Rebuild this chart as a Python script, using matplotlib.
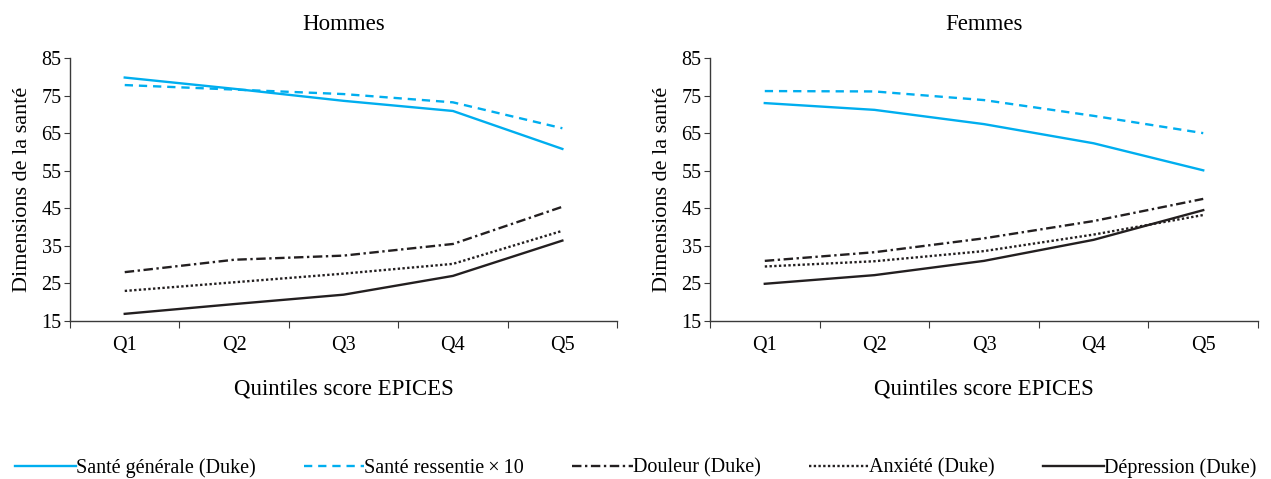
import matplotlib.pyplot as plt

# quintiles of the EPICES score
quintiles = ["Q1", "Q2", "Q3", "Q4", "Q5"]

# Hommes
h_sante_gen = [79.8, 76.8, 73.6, 70.9, 60.8]
h_sante_res = [77.8, 76.6, 75.4, 73.2, 66.3]
h_douleur = [28.0, 31.3, 32.4, 35.5, 45.4]
h_anxiete = [23.0, 25.3, 27.6, 30.2, 39.0]
h_depression = [16.9, 19.5, 22.0, 27.0, 36.4]

# Femmes
f_sante_gen = [73.0, 71.2, 67.4, 62.3, 55.1]
f_sante_res = [76.2, 76.1, 73.8, 69.6, 65.0]
f_douleur = [31.0, 33.3, 37.0, 41.6, 47.5]
f_anxiete = [29.5, 30.9, 33.6, 38.0, 43.2]
f_depression = [24.9, 27.2, 31.0, 36.6, 44.5]

labels = ["Santé générale (Duke)", "Santé ressentie\u2009×\u200910",
          "Douleur (Duke)", "Anxiété (Duke)", "Dépression (Duke)"]

blue = "#00AEEF"
black = "#231F20"
styles = [
    dict(color=blue, linestyle="-"),
    dict(color=blue, linestyle=(0, (3.5, 2.5))),
    dict(color=black, linestyle=(0, (4, 1.5, 1, 1.5))),
    dict(color=black, linestyle=(0, (1, 1))),
    dict(color=black, linestyle="-"),
]

plt.rcParams["font.family"] = ["Liberation Serif", "DejaVu Serif"]
plt.rcParams["font.size"] = 14

fig = plt.figure(figsize=(12.71, 4.79), dpi=100)
ax1 = fig.add_axes([0.0551, 0.3299, 0.4304, 0.549])
ax2 = fig.add_axes([0.5586, 0.3299, 0.4312, 0.549])

data = {
    "Hommes": (ax1, [h_sante_gen, h_sante_res, h_douleur, h_anxiete, h_depression]),
    "Femmes": (ax2, [f_sante_gen, f_sante_res, f_douleur, f_anxiete, f_depression]),
}

x = list(range(len(quintiles)))
for title, (ax, series) in data.items():
    for vals, lab, st in zip(series, labels, styles):
        ax.plot(x, vals, label=lab, linewidth=1.7, **st)
    ax.set_xlim(-0.5, 4.5)
    ax.set_ylim(15, 85)
    ax.set_yticks(range(15, 86, 10))
    ax.set_xticks([i + 0.5 for i in range(-1, 5)])
    ax.set_xticklabels([])
    ax.set_xticks(x, minor=True)
    ax.set_xticklabels(quintiles, minor=True)
    ax.tick_params(axis="x", which="minor", length=0, pad=11, labelsize=14.5)
    ax.tick_params(axis="x", which="major", length=5, direction="out", color="#3a3a3a")
    ax.tick_params(axis="y", length=4, direction="out", color="#3a3a3a", pad=2, labelsize=14.5)
    for s in ["top", "right"]:
        ax.spines[s].set_visible(False)
    for s in ["left", "bottom"]:
        ax.spines[s].set_color("#3a3a3a")
        ax.spines[s].set_linewidth(1.0)
    ax.set_title(title, fontsize=16.5, pad=20)
    ax.set_xlabel("Quintiles score EPICES", fontsize=16.5, labelpad=17)
    ax.set_ylabel("Dimensions de la santé", fontsize=16, labelpad=7)

handles, labs = ax1.get_legend_handles_labels()
fig.legend(handles, labs, loc="lower center", ncol=5, frameon=False,
           bbox_to_anchor=(0.5, -0.035), handlelength=3.0, handletextpad=0.0,
           columnspacing=2.4, fontsize=14.5)

fig.savefig("out.png", dpi=100)
